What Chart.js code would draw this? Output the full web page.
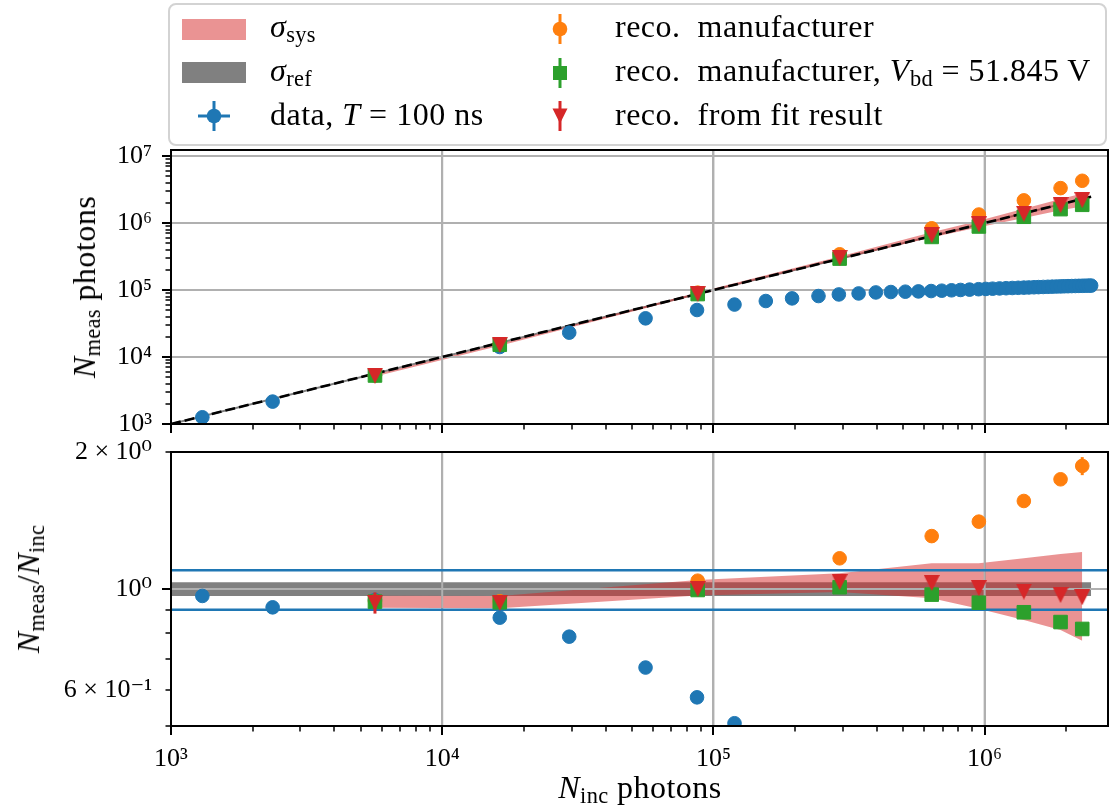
<!DOCTYPE html>
<html>
<head>
<meta charset="utf-8">
<script src="https://cdn.jsdelivr.net/npm/chart.js@4.4.1/dist/chart.umd.min.js"></script>
<style>
  html, body { margin: 0; padding: 0; background: #fff; }
  #fig { position: relative; width: 1110px; height: 807px; overflow: hidden; background: #fff;
         font-family: 'Liberation Serif', 'DejaVu Serif', serif; color: #000; }
  #fig canvas { position: absolute; left: 0; }
  .txt { position: absolute; white-space: nowrap; font-size: 32px; line-height: 32px; letter-spacing: 0.5px; }
  .txt sub { font-size: 70%; vertical-align: -0.22em; line-height: 0; letter-spacing: 0.3px; }
  .rot { transform: translate(-50%, -50%) rotate(-90deg); }
  #legend { position: absolute; left: 168px; top: 3px; width: 939px; height: 143px; box-sizing: border-box;
            border: 2.5px solid #d3d3d3; border-radius: 8px; background: rgba(255,255,255,0.8); }
  .h { position: absolute; }
</style>
</head>
<body>
<div id="fig">
  <canvas id="topPanel" width="1110" height="440" style="top:0;width:1110px;height:440px"></canvas>
  <canvas id="bottomPanel" width="1110" height="367" style="top:440px;width:1110px;height:367px"></canvas>

  <div id="legend"></div>
  <!-- legend handles -->
  <div class="h" style="left:182px;top:19px;width:64px;height:21px;background:rgba(214,39,40,0.5)"></div>
  <div class="h" style="left:182px;top:62px;width:64px;height:21px;background:#808080"></div>
  <svg class="h" style="left:190px;top:93px" width="48" height="46" viewBox="0 0 48 46">
    <line x1="8" y1="23" x2="40" y2="23" stroke="#1f77b4" stroke-width="3"/>
    <line x1="24" y1="8" x2="24" y2="38" stroke="#1f77b4" stroke-width="3"/>
    <circle cx="24" cy="23" r="7.3" fill="#1f77b4"/>
  </svg>
  <svg class="h" style="left:540px;top:6px" width="40" height="46" viewBox="0 0 40 46">
    <line x1="20" y1="8" x2="20" y2="38" stroke="#ff7f0e" stroke-width="3"/>
    <circle cx="20" cy="23" r="7.3" fill="#ff7f0e"/>
  </svg>
  <svg class="h" style="left:540px;top:50px" width="40" height="46" viewBox="0 0 40 46">
    <line x1="20" y1="8" x2="20" y2="38" stroke="#2ca02c" stroke-width="3"/>
    <rect x="13" y="16" width="14" height="14" fill="#2ca02c"/>
  </svg>
  <svg class="h" style="left:540px;top:93px" width="40" height="46" viewBox="0 0 40 46">
    <line x1="20" y1="8" x2="20" y2="38" stroke="#d62728" stroke-width="3"/>
    <polygon points="12.5,15.5 27.5,15.5 20,30.5" fill="#d62728"/>
  </svg>
  <!-- legend labels -->
  <div class="txt" style="left:270px;top:10px"><i>σ</i><sub>sys</sub></div>
  <div class="txt" style="left:270px;top:54px"><i>σ</i><sub>ref</sub></div>
  <div class="txt" style="left:270px;top:98px">data, <i>T</i> = 100 ns</div>
  <div class="txt" style="left:615px;top:10px">reco.&nbsp; manufacturer</div>
  <div class="txt" style="left:615px;top:54px">reco.&nbsp; manufacturer, <i>V</i><sub>bd</sub> = 51.845 V</div>
  <div class="txt" style="left:615px;top:98px">reco.&nbsp; from fit result</div>

  <!-- axis titles -->
  <div class="txt rot" style="left:84px;top:287px"><i>N</i><sub>meas</sub> photons</div>
  <div class="txt rot" style="left:28px;top:589px"><i>N</i><sub>meas</sub>/<i>N</i><sub>inc</sub></div>
  <div class="txt" style="left:640px;top:771px;transform:translateX(-50%)"><i>N</i><sub>inc</sub> photons</div>
</div>

<script>
// ---------------------------------------------------------------------------
// Measured points: incident photons and measured photon counts
const dataInc = [1305, 2370, 5650, 16300, 29400, 56200, 87000, 119600, 156000, 195000,
  244000, 290000, 343000, 397000, 451000, 510000, 570000, 635000, 695000, 755000,
  815000, 880000, 950000, 1010000, 1070000, 1135000, 1200000, 1265000, 1330000, 1395000,
  1455000, 1520000, 1580000, 1645000, 1710000, 1775000, 1840000, 1905000, 1965000, 2030000,
  2095000, 2160000, 2225000, 2290000, 2350000, 2415000, 2470000];
const dataMeas = [1260, 2160, 5345, 14100, 23100, 37770, 50290, 60640, 68500, 75000,
  81300, 85900, 88900, 92000, 93300, 94400, 95300, 96500, 97700, 99000,
  100200, 101400, 102800, 103800, 104700, 105600, 106400, 107200, 107900, 108600,
  109200, 109900, 110500, 111100, 111700, 112200, 112700, 113200, 113700, 114100,
  114500, 114900, 115300, 115600, 115900, 116200, 116400];

// Reconstructed points: incident photons and ratio N_meas / N_inc
const recoInc = [5650, 16300, 87500, 292000, 638000, 952000, 1395000, 1905000, 2290000];
const recoManufacturer    = [0.940, 0.940, 1.043, 1.168, 1.307, 1.406, 1.561, 1.742, 1.864];
const recoManufacturerErr = [0.010, 0.010, 0.010, 0.012, 0.015, 0.020, 0.025, 0.030, 0.085];
const recoManufacturerVbd    = [0.938, 0.935, 0.995, 1.009, 0.972, 0.933, 0.889, 0.846, 0.817];
const recoManufacturerVbdErr = [0.010, 0.008, 0.008, 0.008, 0.008, 0.008, 0.008, 0.008, 0.010];
const recoFit    = [0.933, 0.933, 1.000, 1.036, 1.031, 1.004, 0.987, 0.970, 0.959];
const recoFitErr = [0.050, 0.012, 0.010, 0.010, 0.010, 0.010, 0.010, 0.010, 0.010];

// Systematic uncertainty band (ratio), evaluated at recoInc
const sysUpper = [0.967, 0.965, 1.047, 1.083, 1.139, 1.139, 1.168, 1.194, 1.206];
const sysLower = [0.909, 0.907, 0.968, 0.985, 0.954, 0.905, 0.855, 0.813, 0.770];

// Reference uncertainty band and ±10 % guide lines
const refInc = [1000, 2470000];
const refUpper = 1.035;
const refLower = 0.965;
const guideLevels = [0.9, 1.1];

// Axis ranges and labelled ticks
const xRange = [1000, 2.85e6];
const topYRange = [1000, 1.23e7];
const bottomYRange = [0.5, 2];
const xTickValues = [1e3, 1e4, 1e5, 1e6];
const xTickLabels = ['10³', '10⁴', '10⁵', '10⁶'];
const topYTickValues = [1e3, 1e4, 1e5, 1e6, 1e7];
const topYTickLabels = ['10³', '10⁴', '10⁵', '10⁶', '10⁷'];
const bottomYTickValues = [0.6, 1, 2];
const bottomYTickLabels = ['6 × 10⁻¹', '10⁰', '2 × 10⁰'];
// ---------------------------------------------------------------------------

const FONT = "'Liberation Serif', 'DejaVu Serif', serif";
const BLUE = '#1f77b4', ORANGE = '#ff7f0e', GREEN = '#2ca02c', RED = '#d62728';
const GRID = '#b0b0b0';
const SYS_FILL = 'rgba(214,39,40,0.5)';
const REF_FILL = '#808080';

function isDecade(v) { const l = Math.log10(v); return Math.abs(l - Math.round(l)) < 1e-6; }
function logTicks(min, max) {
  const out = [];
  for (let e = Math.floor(Math.log10(min)); e <= Math.ceil(Math.log10(max)); e++) {
    for (let m = 1; m <= 9; m++) {
      const v = m * Math.pow(10, e);
      if (v >= min * (1 - 1e-9) && v <= max * (1 + 1e-9)) out.push(v);
    }
  }
  return out;
}
function labelFor(v, vals, labels) {
  for (let i = 0; i < vals.length; i++) {
    if (Math.abs(Math.log10(v) - Math.log10(vals[i])) < 1e-6) return labels[i];
  }
  return '';
}

// downward-pointing triangle marker
function triangleDown(color, size) {
  const c = document.createElement('canvas');
  c.width = size; c.height = size;
  const g = c.getContext('2d');
  g.fillStyle = color;
  g.beginPath(); g.moveTo(0, 0); g.lineTo(size, 0); g.lineTo(size / 2, size); g.closePath(); g.fill();
  return c;
}
const triMarker = triangleDown(RED, 16);

// major grid lines drawn again over the filled bands
const gridOverBands = {
  id: 'gridOverBands',
  afterDatasetDraw(chart, args) {
    if (!chart.data.datasets[args.index].gridAfter) return;
    const { ctx, chartArea: a, scales: { x, y } } = chart;
    ctx.save();
    ctx.beginPath(); ctx.rect(a.left, a.top, a.right - a.left, a.bottom - a.top); ctx.clip();
    ctx.strokeStyle = GRID; ctx.lineWidth = 2;
    for (const t of x.ticks) if (isDecade(t.value)) {
      const p = x.getPixelForValue(t.value);
      ctx.beginPath(); ctx.moveTo(p, a.top); ctx.lineTo(p, a.bottom); ctx.stroke();
    }
    for (const t of y.ticks) if (isDecade(t.value)) {
      const p = y.getPixelForValue(t.value);
      ctx.beginPath(); ctx.moveTo(a.left, p); ctx.lineTo(a.right, p); ctx.stroke();
    }
    ctx.restore();
  }
};

// vertical error bars underneath the markers
const errorBars = {
  id: 'errorBars',
  beforeDatasetDraw(chart, args) {
    const ds = chart.data.datasets[args.index];
    if (!ds.yErr) return;
    const { ctx, chartArea: a, scales: { x, y } } = chart;
    ctx.save();
    ctx.beginPath(); ctx.rect(a.left, a.top, a.right - a.left, a.bottom - a.top); ctx.clip();
    ctx.strokeStyle = ds.backgroundColor; ctx.lineWidth = 3;
    ds.data.forEach((pt, i) => {
      const px = x.getPixelForValue(pt.x);
      ctx.beginPath();
      ctx.moveTo(px, y.getPixelForValue(pt.y - ds.yErr[i]));
      ctx.lineTo(px, y.getPixelForValue(pt.y + ds.yErr[i]));
      ctx.stroke();
    });
    ctx.restore();
  }
};

// outward tick marks and the axes frame
const frameTicks = {
  id: 'frameTicks',
  afterDraw(chart) {
    const { ctx, chartArea: a, scales: { x, y } } = chart;
    ctx.save();
    ctx.strokeStyle = '#000';
    for (const t of x.ticks) {
      const major = isDecade(t.value);
      const p = Math.round(x.getPixelForValue(t.value));
      ctx.lineWidth = major ? 2 : 1.5;
      ctx.beginPath(); ctx.moveTo(p, a.bottom); ctx.lineTo(p, a.bottom + (major ? 9 : 5.5)); ctx.stroke();
    }
    for (const t of y.ticks) {
      const major = isDecade(t.value);
      const p = Math.round(y.getPixelForValue(t.value));
      ctx.lineWidth = major ? 2 : 1.5;
      ctx.beginPath(); ctx.moveTo(a.left, p); ctx.lineTo(a.left - (major ? 9 : 5.5), p); ctx.stroke();
    }
    ctx.lineWidth = 2;
    ctx.strokeRect(a.left, a.top, a.right - a.left, a.bottom - a.top);
    ctx.restore();
  }
};

const gridColor = c => (c.tick && isDecade(c.tick.value)) ? GRID : 'rgba(0,0,0,0)';

function xScale(withLabels, axisHeight) {
  return {
    type: 'logarithmic', position: 'bottom', min: xRange[0], max: xRange[1],
    afterBuildTicks: s => { s.ticks = logTicks(xRange[0], xRange[1]).map(v => ({ value: v })); },
    afterFit: s => { s.height = axisHeight; },
    grid: { color: gridColor, lineWidth: 2, drawTicks: true, tickLength: 18, tickColor: 'rgba(0,0,0,0)' },
    border: { display: false },
    ticks: {
      display: withLabels, autoSkip: false, maxRotation: 0, minRotation: 0, padding: 0,
      color: '#000', font: { family: FONT, size: 26 },
      callback: v => labelFor(v, xTickValues, xTickLabels)
    }
  };
}
function yScale(range, vals, labels) {
  return {
    type: 'logarithmic', position: 'left', min: range[0], max: range[1],
    afterBuildTicks: s => { s.ticks = logTicks(range[0], range[1]).map(v => ({ value: v })); },
    afterFit: s => { s.width = 171; },
    grid: { color: gridColor, lineWidth: 2, drawTicks: true, tickLength: 19, tickColor: 'rgba(0,0,0,0)' },
    border: { display: false },
    ticks: {
      autoSkip: false, padding: 0, color: '#000', font: { family: FONT, size: 26, lineHeight: 0.5 },
      callback: v => labelFor(v, vals, labels)
    }
  };
}

function lineSet(points, extra) {
  return Object.assign({ data: points, showLine: true, pointRadius: 0, borderWidth: 0,
    borderColor: 'rgba(0,0,0,0)', fill: false, clip: 0 }, extra);
}
function pointSet(points, color, style, radius, order, err) {
  return { data: points, showLine: false, pointStyle: style, pointRadius: radius,
    backgroundColor: color, borderColor: color, borderWidth: style === triMarker ? 0 : 1,
    order: order, clip: 0, yErr: err };
}

function datasets(top) {
  const val = (x, r) => top ? x * r : r;
  const sets = [];
  // reference band (indices 0/1)
  sets.push(lineSet(refInc.map(x => ({ x, y: val(x, refUpper) })), { fill: '+1', backgroundColor: REF_FILL, order: 10 }));
  sets.push(lineSet(refInc.map(x => ({ x, y: val(x, refLower) })), { order: 11 }));
  // systematic band (indices 2/3)
  sets.push(lineSet(recoInc.map((x, i) => ({ x, y: val(x, sysUpper[i]) })), { fill: '+1', backgroundColor: SYS_FILL, order: 8, gridAfter: true }));
  sets.push(lineSet(recoInc.map((x, i) => ({ x, y: val(x, sysLower[i]) })), { order: 9 }));
  if (top) {
    // identity line N_meas = N_inc
    sets.push(lineSet(refInc.map(x => ({ x, y: x })), { borderColor: '#000', borderWidth: 2.6, borderDash: [10, 4], order: 7 }));
  } else {
    guideLevels.forEach(g => sets.push(lineSet(xRange.map(x => ({ x, y: g })), { borderColor: BLUE, borderWidth: 2.5, order: 6 })));
  }
  sets.push(pointSet(dataInc.map((x, i) => ({ x, y: top ? dataMeas[i] : dataMeas[i] / x })), BLUE, 'circle', 6.8, 4));
  sets.push(pointSet(recoInc.map((x, i) => ({ x, y: val(x, recoManufacturer[i]) })), ORANGE, 'circle', 6.8, 3,
    recoInc.map((x, i) => val(x, recoManufacturerErr[i]))));
  sets.push(pointSet(recoInc.map((x, i) => ({ x, y: val(x, recoManufacturerVbd[i]) })), GREEN, 'rect', 9.6, 2,
    recoInc.map((x, i) => val(x, recoManufacturerVbdErr[i]))));
  sets.push(pointSet(recoInc.map((x, i) => ({ x, y: val(x, recoFit[i]) })), RED, triMarker, 8, 1,
    recoInc.map((x, i) => val(x, recoFitErr[i]))));
  return sets;
}

function commonOptions(padTop, xAxis, yAxis) {
  return {
    responsive: false, animation: false, devicePixelRatio: 1, events: [],
    layout: { autoPadding: false, padding: { top: padTop, right: 2, left: 0, bottom: 0 } },
    plugins: { legend: { display: false }, tooltip: { enabled: false }, title: { display: false } },
    scales: { x: xAxis, y: yAxis }
  };
}

Chart.defaults.font.family = FONT;

new Chart(document.getElementById('topPanel'), {
  type: 'scatter',
  data: { datasets: datasets(true) },
  options: commonOptions(150, xScale(false, 16), yScale(topYRange, topYTickValues, topYTickLabels)),
  plugins: [gridOverBands, errorBars, frameTicks]
});

new Chart(document.getElementById('bottomPanel'), {
  type: 'scatter',
  data: { datasets: datasets(false) },
  options: commonOptions(12, xScale(true, 81), yScale(bottomYRange, bottomYTickValues, bottomYTickLabels)),
  plugins: [gridOverBands, errorBars, frameTicks]
});
</script>
</body>
</html>
